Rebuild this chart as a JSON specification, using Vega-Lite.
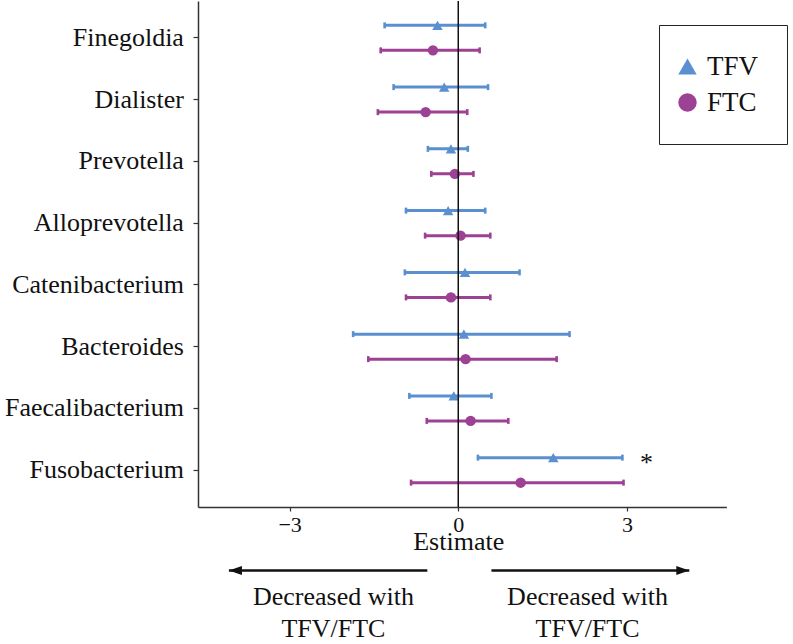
{
  "$schema": "https://vega.github.io/schema/vega-lite/v6.json",
  "padding": {"left": 4, "top": 0, "right": 0, "bottom": 0},
  "background": "white",
  "config": {
    "font": "Liberation Serif",
    "view": {"stroke": null},
    "axis": {"domainColor": "#333333", "domainWidth": 1.5, "tickColor": "#333333", "tickWidth": 1.2, "labelColor": "#111111", "titleColor": "#111111", "grid": false, "labelFont": "Liberation Serif", "titleFont": "Liberation Serif"},
    "legend": {"labelFont": "Liberation Serif", "titleFont": "Liberation Serif"}
  },
  "datasets": {
    "est": [
      {"genus": "Finegoldia", "drug": "TFV", "estimate": -0.37, "lower": -1.31, "upper": 0.48},
      {"genus": "Finegoldia", "drug": "FTC", "estimate": -0.45, "lower": -1.38, "upper": 0.38},
      {"genus": "Dialister", "drug": "TFV", "estimate": -0.25, "lower": -1.15, "upper": 0.53},
      {"genus": "Dialister", "drug": "FTC", "estimate": -0.58, "lower": -1.43, "upper": 0.16},
      {"genus": "Prevotella", "drug": "TFV", "estimate": -0.13, "lower": -0.54, "upper": 0.17},
      {"genus": "Prevotella", "drug": "FTC", "estimate": -0.06, "lower": -0.48, "upper": 0.27},
      {"genus": "Alloprevotella", "drug": "TFV", "estimate": -0.18, "lower": -0.93, "upper": 0.48},
      {"genus": "Alloprevotella", "drug": "FTC", "estimate": 0.04, "lower": -0.59, "upper": 0.57},
      {"genus": "Catenibacterium", "drug": "TFV", "estimate": 0.12, "lower": -0.95, "upper": 1.09},
      {"genus": "Catenibacterium", "drug": "FTC", "estimate": -0.13, "lower": -0.93, "upper": 0.57},
      {"genus": "Bacteroides", "drug": "TFV", "estimate": 0.10, "lower": -1.87, "upper": 1.98},
      {"genus": "Bacteroides", "drug": "FTC", "estimate": 0.13, "lower": -1.60, "upper": 1.75},
      {"genus": "Faecalibacterium", "drug": "TFV", "estimate": -0.08, "lower": -0.87, "upper": 0.59},
      {"genus": "Faecalibacterium", "drug": "FTC", "estimate": 0.22, "lower": -0.56, "upper": 0.89},
      {"genus": "Fusobacterium", "drug": "TFV", "estimate": 1.69, "lower": 0.35, "upper": 2.92},
      {"genus": "Fusobacterium", "drug": "FTC", "estimate": 1.11, "lower": -0.84, "upper": 2.94}
    ],
    "signif": [{"genus": "Fusobacterium", "drug": "TFV", "pos": 3.35, "label": "*"}],
    "reference": [{"ref": 0}],
    "arrows": [
      {"side": "left", "start": -0.55, "end": -4.08},
      {"side": "right", "start": 0.59, "end": 4.11}
    ],
    "notes": [
      {"side": "left", "pos": -2.22, "label": "Decreased with\nTFV/FTC"},
      {"side": "right", "pos": 2.30, "label": "Decreased with\nTFV/FTC"}
    ]
  },
  "spacing": 50,
  "bounds": "flush",
  "resolve": {"scale": {"x": "independent", "y": "independent", "color": "independent", "shape": "independent"}},
  "vconcat": [
    {
      "width": 528.4,
      "height": 506,
      "layer": [
        {
          "data": {"name": "est"},
          "mark": {"type": "rule", "strokeWidth": 3},
          "encoding": {
            "x": {"field": "lower", "type": "quantitative",
              "scale": {"domain": [-4.63, 4.77], "nice": false, "zero": false},
              "axis": {"values": [-3, 0, 3], "format": "d", "title": "Estimate", "labelFontSize": 22, "titleFontSize": 26, "titleFontWeight": "normal", "tickSize": 4, "labelPadding": 4, "titleY": 43, "titleBaseline": "alphabetic", "titleX": 260.2, "labelFlush": false}},
            "x2": {"field": "upper"},
            "y": {"field": "genus", "type": "nominal",
              "sort": ["Finegoldia", "Dialister", "Prevotella", "Alloprevotella", "Catenibacterium", "Bacteroides", "Faecalibacterium", "Fusobacterium"],
              "scale": {"paddingInner": 0, "paddingOuter": 0.097},
              "axis": {"title": null, "labelFontSize": 26, "tickSize": 5, "labelPadding": 9.6, "labelLimit": 400}},
            "yOffset": {"field": "drug", "type": "nominal", "sort": ["TFV", "FTC"], "scale": {"paddingInner": 0, "paddingOuter": 0.235}},
            "color": {"field": "drug", "type": "nominal", "scale": {"domain": ["TFV", "FTC"], "range": ["#5A8FD0", "#9C4193"]}}
          }
        },
        {
          "data": {"name": "est"},
          "mark": {"type": "tick", "size": 6, "thickness": 2.6, "opacity": 1},
          "encoding": {
            "x": {"field": "lower", "type": "quantitative"},
            "y": {"field": "genus", "type": "nominal", "sort": ["Finegoldia", "Dialister", "Prevotella", "Alloprevotella", "Catenibacterium", "Bacteroides", "Faecalibacterium", "Fusobacterium"]},
            "yOffset": {"field": "drug", "type": "nominal", "sort": ["TFV", "FTC"]},
            "color": {"field": "drug", "type": "nominal"}
          }
        },
        {
          "data": {"name": "est"},
          "mark": {"type": "tick", "size": 6, "thickness": 2.6, "opacity": 1},
          "encoding": {
            "x": {"field": "upper", "type": "quantitative"},
            "y": {"field": "genus", "type": "nominal", "sort": ["Finegoldia", "Dialister", "Prevotella", "Alloprevotella", "Catenibacterium", "Bacteroides", "Faecalibacterium", "Fusobacterium"]},
            "yOffset": {"field": "drug", "type": "nominal", "sort": ["TFV", "FTC"]},
            "color": {"field": "drug", "type": "nominal"}
          }
        },
        {
          "data": {"name": "est"},
          "mark": {"type": "point", "filled": true, "opacity": 1, "size": 110, "strokeWidth": 0},
          "encoding": {
            "x": {"field": "estimate", "type": "quantitative"},
            "y": {"field": "genus", "type": "nominal", "sort": ["Finegoldia", "Dialister", "Prevotella", "Alloprevotella", "Catenibacterium", "Bacteroides", "Faecalibacterium", "Fusobacterium"]},
            "yOffset": {"field": "drug", "type": "nominal", "sort": ["TFV", "FTC"]},
            "color": {"field": "drug", "type": "nominal",
              "legend": {"title": null, "orient": "none", "legendX": 461, "legendY": 24, "labelFontSize": 27, "labelFont": "Liberation Serif", "labelColor": "#111111", "padding": 28, "strokeColor": "#222222", "fillColor": "white", "rowPadding": 8, "labelOffset": 6, "symbolOffset": -13, "symbolStrokeWidth": 0, "symbolOpacity": 1, "symbolSize": 340,
                "encode": {"labels": {"update": {"font": {"value": "Liberation Serif"}}}}}},
            "shape": {"field": "drug", "type": "nominal", "scale": {"domain": ["TFV", "FTC"], "range": ["triangle-up", "circle"]},
              "legend": {"title": null, "orient": "none", "legendX": 461, "legendY": 24, "labelFontSize": 27, "labelFont": "Liberation Serif", "labelColor": "#111111", "padding": 28, "strokeColor": "#222222", "fillColor": "white", "rowPadding": 8, "labelOffset": 6, "symbolOffset": -13, "symbolStrokeWidth": 0, "symbolOpacity": 1, "symbolSize": 340,
                "encode": {"labels": {"update": {"font": {"value": "Liberation Serif"}}}}}}
          }
        },
        {
          "data": {"name": "signif"},
          "mark": {"type": "text", "fontSize": 26, "color": "#111111", "baseline": "middle", "dy": 5},
          "encoding": {
            "x": {"field": "pos", "type": "quantitative"},
            "y": {"field": "genus", "type": "nominal", "sort": ["Finegoldia", "Dialister", "Prevotella", "Alloprevotella", "Catenibacterium", "Bacteroides", "Faecalibacterium", "Fusobacterium"]},
            "yOffset": {"field": "drug", "type": "nominal", "sort": ["TFV", "FTC"]},
            "text": {"field": "label"}
          }
        },
        {
          "data": {"name": "reference"},
          "mark": {"type": "rule", "color": "#111111", "strokeWidth": 1.5},
          "encoding": {"x": {"field": "ref", "type": "quantitative"}}
        }
      ]
    },
    {
      "width": 528.4,
      "height": 88,
      "layer": [
        {
          "data": {"name": "arrows"},
          "mark": {"type": "rule", "strokeWidth": 2.5, "color": "#111111"},
          "encoding": {
            "x": {"field": "start", "type": "quantitative", "scale": {"domain": [-4.63, 4.77], "nice": false, "zero": false}, "axis": null},
            "x2": {"field": "end"},
            "y": {"datum": 0.847, "type": "quantitative", "scale": {"domain": [0, 1]}, "axis": null}
          }
        },
        {
          "data": {"name": "arrows"},
          "transform": [{"filter": "datum.side === 'left'"}],
          "mark": {"type": "point", "shape": "M0,0L2,-0.7L2,0.7Z", "filled": true, "opacity": 1, "size": 169, "color": "#111111", "strokeWidth": 0},
          "encoding": {
            "x": {"field": "end", "type": "quantitative"},
            "y": {"datum": 0.847, "type": "quantitative"}
          }
        },
        {
          "data": {"name": "arrows"},
          "transform": [{"filter": "datum.side === 'right'"}],
          "mark": {"type": "point", "shape": "M0,0L-2,-0.7L-2,0.7Z", "filled": true, "opacity": 1, "size": 169, "color": "#111111", "strokeWidth": 0},
          "encoding": {
            "x": {"field": "end", "type": "quantitative"},
            "y": {"datum": 0.847, "type": "quantitative"}
          }
        },
        {
          "data": {"name": "notes"},
          "mark": {"type": "text", "fontSize": 26, "lineBreak": "\n", "lineHeight": 32, "baseline": "middle", "color": "#111111"},
          "encoding": {
            "x": {"field": "pos", "type": "quantitative"},
            "y": {"datum": 0.54, "type": "quantitative"},
            "text": {"field": "label"}
          }
        }
      ]
    }
  ]
}
